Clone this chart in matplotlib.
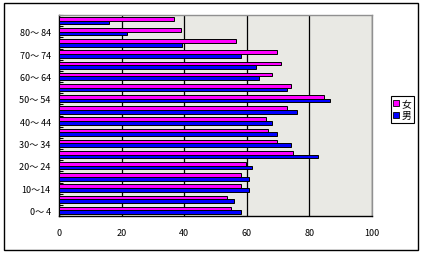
import numpy as np
import matplotlib
matplotlib.use("Agg")
import matplotlib.pyplot as plt
from matplotlib.patches import Rectangle, Patch

plt.rcParams['font.family'] = ['Noto Sans CJK JP', 'DejaVu Sans']

# age groups, bottom to top
age_groups = ["0～ 4", "5～ 9", "10～14", "15～ 19", "20～ 24", "25～ 29",
              "30～ 34", "35～ 39", "40～ 44", "45～ 49", "50～ 54", "55～ 59",
              "60～ 64", "65～ 69", "70～ 74", "75～ 79", "80～ 84", "85～"]
female = [54.9, 53.8, 58.1, 58.1, 59.9, 74.8, 69.8, 66.9, 66.0, 73.0,
          84.8, 74.1, 68.0, 70.9, 69.8, 56.7, 39.1, 36.9]
male = [58.1, 55.8, 60.8, 60.8, 61.8, 82.7, 74.0, 69.8, 68.0, 76.0,
        86.7, 73.0, 63.8, 62.9, 58.1, 39.2, 21.8, 15.9]
series_names = ["女", "男"]
x_ticks = [0, 20, 40, 60, 80, 100]

W, H = 423, 255
fig = plt.figure(figsize=(W / 100, H / 100), dpi=100)
fig.patch.set_facecolor('white')
ax = fig.add_axes([59 / W, 1 - 217 / H, (372 - 59) / W, (217 - 16) / H])
ax.set_facecolor('#e9e9e4')

y = np.arange(len(age_groups))
bh = 0.335
ax.barh(y + bh / 2, female, height=bh, color='#ff00ff', edgecolor='black', linewidth=0.7, zorder=3)
ax.barh(y - bh / 2, male, height=bh, color='#0000ff', edgecolor='black', linewidth=0.7, zorder=3)

ax.set_xlim(0, 100)
ax.set_ylim(-0.5, len(age_groups) - 0.5)
ax.set_xticks(x_ticks)
ax.set_xticklabels([str(v) for v in x_ticks], fontsize=6.5)
ax.tick_params(axis='x', length=0, pad=9)

ax.set_yticks(y[::2])
ax.set_yticklabels(age_groups[::2], fontsize=6.5)
ax.tick_params(axis='y', which='major', length=0, pad=6)
ax.set_yticks(np.arange(-0.5, len(age_groups), 1), minor=True)
ax.tick_params(axis='y', which='minor', direction='in', length=3, width=0.8, color='black')

ax.set_axisbelow(True)
ax.xaxis.grid(True, color='black', linewidth=0.9, zorder=1)

for s in ['left', 'bottom']:
    ax.spines[s].set_color('black')
    ax.spines[s].set_linewidth(1)
for s in ['top', 'right']:
    ax.spines[s].set_color('#909090')
    ax.spines[s].set_linewidth(1)

handles = [Patch(facecolor='#ff00ff', edgecolor='black', linewidth=0.6),
           Patch(facecolor='#0000ff', edgecolor='black', linewidth=0.6)]
leg = fig.legend(handles, series_names, loc='center left',
                 bbox_to_anchor=(391 / W, 1 - 110.5 / H), fontsize=7,
                 handlelength=0.6, handleheight=0.6, handletextpad=0.25,
                 labelspacing=0.15, borderpad=0.25, borderaxespad=0,
                 fancybox=False, framealpha=1)
leg.get_frame().set_edgecolor('black')
leg.get_frame().set_linewidth(0.8)

fig.add_artist(Rectangle((4 / W, 4 / H), 414 / W, 247 / H, transform=fig.transFigure,
                         fill=False, edgecolor='black', linewidth=1))

fig.savefig('out.png', dpi=100)
